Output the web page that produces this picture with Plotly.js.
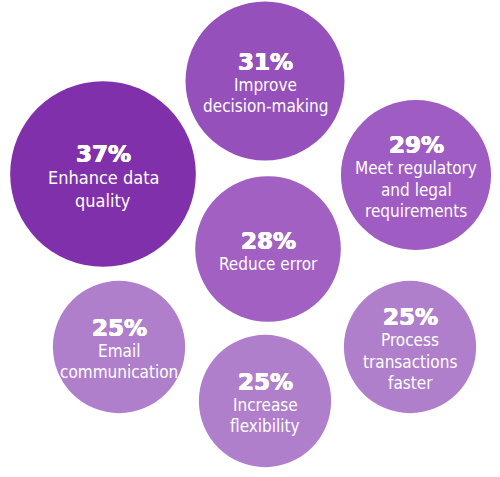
<!DOCTYPE html>
<html>
<head>
<meta charset="utf-8">
<script src="https://cdn.plot.ly/plotly-3.0.1.min.js"></script>
<style>
  html, body { margin: 0; padding: 0; background: #fff; }
  #chart { width: 500px; height: 477px; }
</style>
</head>
<body>
<div id="chart"></div>
<script>
// Survey answers, one bubble each
let labels = [
    'Enhance data\nquality',
    'Improve\ndecision-making',
    'Meet regulatory\nand legal\nrequirements',
    'Reduce error',
    'Email\ncommunication',
    'Process\ntransactions\nfaster',
    'Increase\nflexibility'
];
let shares = [37, 31, 29, 28, 25, 25, 25];
// bubble centres on the 500 x 477 layout grid
let centreX = [103, 265, 416, 268, 119, 410, 265];
let centreY = [174, 81, 175, 249, 347, 347, 401];
let colours = ['#8030aa', '#9650bb', '#9f5cc2', '#a160c2', '#b07fcc', '#b07fcc', '#b07fcc'];

// diameter in px grows linearly with the share
let sizeBase = 21, sizePerPoint = 4.45;

let bubbles = {
    type: 'scatter',
    mode: 'markers',
    x: centreX,
    y: centreY,
    hoverinfo: 'skip',
    marker: {
        size: shares.map(v => sizeBase + v * sizePerPoint),
        sizemode: 'diameter',
        color: colours,
        opacity: 1,
        line: { width: 0 }
    }
};

// text: percent line then label lines, block roughly centred on bubble
let annotations = [];
shares.forEach((v, i) => {
    let lines = labels[i].split('\n');
    let pctGap = 23;
    let lineGap = v > 35 ? 23 : 21.5;
    let blockH = pctGap + (lines.length - 1) * lineGap;
    let top = -blockH / 2 + 3;
    annotations.push({
        x: centreX[i], y: centreY[i], xref: 'x', yref: 'y',
        text: v + '%',
        showarrow: false,
        xanchor: 'center', yanchor: 'middle',
        yshift: -top,
        // faux-heavy: thin white shadows thicken the bold strokes
        font: {
            family: 'DejaVu Sans', size: 23, weight: 'bold', color: '#ffffff',
            shadow: '0.6px 0 0 #fff, -0.6px 0 0 #fff, 0 0.4px 0 #fff'
        }
    });
    lines.forEach((ln, j) => {
        annotations.push({
            x: centreX[i], y: centreY[i], xref: 'x', yref: 'y',
            text: ln,
            showarrow: false,
            xanchor: 'center', yanchor: 'middle',
            yshift: -(top + pctGap + j * lineGap),
            font: { family: 'DejaVu Sans Condensed, sans-serif', size: v > 35 ? 18 : 17, color: '#ffffff' }
        });
    });
});

let layout = {
    width: 500,
    height: 477,
    margin: { t: 0, r: 0, b: 0, l: 0 },
    paper_bgcolor: '#ffffff',
    plot_bgcolor: '#ffffff',
    showlegend: false,
    xaxis: { range: [0, 500], visible: false, fixedrange: true },
    yaxis: { range: [477, 0], visible: false, fixedrange: true },
    annotations: annotations
};

Plotly.newPlot('chart', [bubbles], layout, { staticPlot: true, displayModeBar: false });
</script>
</body>
</html>
